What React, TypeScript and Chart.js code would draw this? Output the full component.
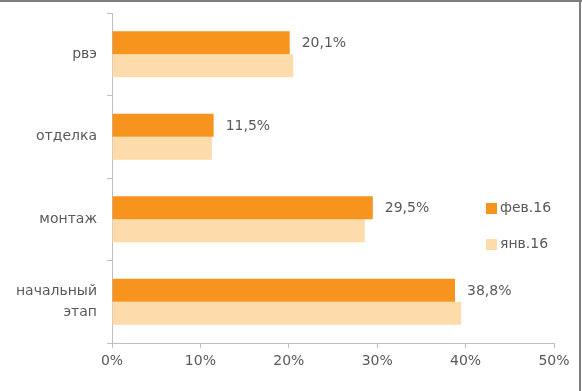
import React, { useEffect, useRef } from "react";
import { Chart, registerables } from "chart.js";

Chart.register(...registerables);

const categories: (string | string[])[] = ["рвэ", "отделка", "монтаж", ["начальный", "этап"]];
const seriesNames = ["фев.16", "янв.16"];
const febValues = [20.1, 11.5, 29.5, 38.8];
const janValues = [20.5, 11.3, 28.6, 39.5];
const febLabels = ["20,1%", "11,5%", "29,5%", "38,8%"];
const xTicks = [0, 10, 20, 30, 40, 50];

const FEB_COLOR = "#F7941D";
const JAN_COLOR = "#FDDBAA";
const TEXT = "#595959";
const AXIS = "#BFBFBF";
const FONT = "'DejaVu Sans', sans-serif";

const valueLabelPlugin = {
  id: "valueLabels",
  afterDatasetsDraw(chart: any) {
    const ctx = chart.ctx;
    const meta = chart.getDatasetMeta(0);
    ctx.save();
    ctx.font = `14px ${FONT}`;
    ctx.fillStyle = TEXT;
    ctx.textAlign = "left";
    ctx.textBaseline = "middle";
    meta.data.forEach((el: any, i: number) => {
      ctx.fillText(febLabels[i], el.x + 12, el.y + 1);
    });
    ctx.restore();
  },
};

const legendPlugin = {
  id: "insideLegend",
  afterDraw(chart: any) {
    const ctx = chart.ctx;
    const area = chart.chartArea;
    const x = area.right - 68;
    const ys = [208, 244];
    const colors = [FEB_COLOR, JAN_COLOR];
    ctx.save();
    ctx.font = `14px ${FONT}`;
    ctx.textAlign = "left";
    ctx.textBaseline = "middle";
    seriesNames.forEach((name, i) => {
      ctx.fillStyle = colors[i];
      ctx.fillRect(x, ys[i] - 5, 11, 11);
      ctx.fillStyle = TEXT;
      ctx.fillText(name, x + 14, ys[i]);
    });
    ctx.restore();
  },
};

export default function App() {
  const ref = useRef<HTMLCanvasElement | null>(null);

  useEffect(() => {
    if (!ref.current) return;
    const chart = new Chart(ref.current, {
      type: "bar",
      data: {
        labels: categories,
        datasets: [
          {
            label: seriesNames[0],
            data: febValues,
            backgroundColor: FEB_COLOR,
            categoryPercentage: 0.56,
            barPercentage: 1.0,
          },
          {
            label: seriesNames[1],
            data: janValues,
            backgroundColor: JAN_COLOR,
            categoryPercentage: 0.56,
            barPercentage: 1.0,
          },
        ],
      },
      options: {
        indexAxis: "y",
        animation: false,
        responsive: false,
        maintainAspectRatio: false,
        layout: { padding: { top: 13, right: 28, left: 0, bottom: 0 } },
        plugins: {
          legend: { display: false },
          tooltip: { enabled: false },
        },
        scales: {
          x: {
            min: 0,
            max: 50,
            afterBuildTicks: (scale: any) => {
              scale.ticks = xTicks.map((v) => ({ value: v }));
            },
            afterFit: (scale: any) => {
              scale.height = 48;
            },
            grid: {
              drawOnChartArea: false,
              drawTicks: true,
              tickLength: 5,
              color: AXIS,
            },
            border: { display: true, color: AXIS, width: 1 },
            ticks: {
              color: TEXT,
              font: { family: FONT, size: 14 },
              padding: 5,
              callback: (v: any) => `${v}%`,
            },
          },
          y: {
            afterFit: (scale: any) => {
              scale.width = 112;
              scale.paddingTop = 0;
              scale.paddingBottom = 0;
            },
            grid: {
              drawOnChartArea: false,
              drawTicks: true,
              tickLength: 5,
              offset: true,
              color: AXIS,
            },
            border: { display: true, color: AXIS, width: 1 },
            ticks: {
              color: TEXT,
              font: { family: FONT, size: 14, lineHeight: 1.5 },
              padding: 10,
            },
          },
        },
      },
      plugins: [valueLabelPlugin, legendPlugin],
    });
    return () => chart.destroy();
  }, []);

  return (
    <div
      style={{
        position: "fixed",
        left: 0,
        top: 0,
        width: 582,
        height: 391,
        background: "#fff",
        boxSizing: "border-box",
        overflow: "hidden",
      }}
    >
      <canvas ref={ref} width={582} height={391} style={{ display: "block" }} />
      <div
        style={{
          position: "absolute",
          left: 0,
          top: 0,
          right: 0,
          height: 2,
          background: "#7F7F7F",
        }}
      />
      <div
        style={{
          position: "absolute",
          top: 0,
          right: 1,
          bottom: 0,
          width: 2,
          background: "#7F7F7F",
        }}
      />
    </div>
  );
}
